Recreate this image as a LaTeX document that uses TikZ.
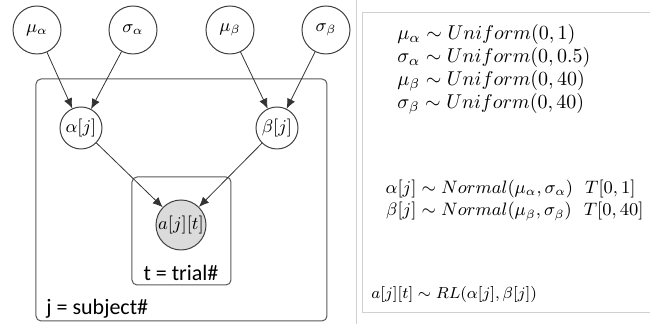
\documentclass[tikz,border=0pt]{standalone}
\usepackage{fontspec}
\usepackage{mathtools}
\newfontfamily\calib{Carlito}
\usetikzlibrary{arrows.meta}
\begin{document}
\begin{tikzpicture}[x=0.5pt,y=-0.5pt,
  var/.style={circle,draw=black!75,line width=0.5pt,inner sep=0pt,minimum size=24pt,font=\fontsize{9}{10}\selectfont},
  latent/.style={var,minimum size=21pt},
  obs/.style={var,minimum size=25pt,fill=black!14},
  plate/.style={draw=black!65,line width=0.5pt,rounded corners=2.5pt},
  arr/.style={draw=black!80,line width=0.4pt,-{Latex[length=5pt,width=4.3pt]}},
  platelabel/.style={font=\calib\fontsize{11}{12}\selectfont,inner sep=0pt},
  eq/.style={inner sep=0pt,anchor=base west},
  equni/.style={eq,font=\fontsize{10}{12}\selectfont},
  eqnorm/.style={eq,font=\fontsize{9}{11}\selectfont},
  eqrl/.style={eq,font=\fontsize{8.4}{10}\selectfont},
  rule/.style={draw=black!18,line width=0.5pt}
]
\useasboundingbox (0,0) rectangle (650,324);
% plates
\draw[plate] (36,79) rectangle (327,321);
\draw[plate] (132,177) rectangle (231,285);
% nodes
\node[var] (ma) at (37,30) {$\mu_\alpha$};
\node[var] (sa) at (133,30) {$\sigma_\alpha$};
\node[var] (mb) at (230,30) {$\mu_\beta$};
\node[var] (sb) at (326,30) {$\sigma_\beta$};
\node[latent] (aj) at (81,128) {$\alpha[j]$};
\node[latent] (bj) at (277,128) {$\beta[j]$};
\node[obs] (ajt) at (181,225) {$a[j][t]$};
\node[platelabel] (tl) at (181,273) {t = trial\#};
\node[platelabel,anchor=west] (jl) at (46,309) {j = subject\#};
% arrows
\draw[arr] (ma) -- (aj);
\draw[arr] (sa) -- (aj);
\draw[arr] (mb) -- (bj);
\draw[arr] (sb) -- (bj);
\draw[arr] (aj) -- (ajt);
\draw[arr] (bj) -- (ajt);
% right panel rules
\draw[rule] (357,0) -- (357,324);
\draw[rule] (650,13) -- (363,13) -- (363,313) -- (650,313);
% equations
\node[equni] (e1) at (397,40) {$\mu_\alpha \sim Uniform(0,1)$};
\node[equni] (e2) at (397,63) {$\sigma_\alpha \sim Uniform(0,0.5)$};
\node[equni] (e3) at (397,86) {$\mu_\beta \sim Uniform(0,40)$};
\node[equni] (e4) at (397,109) {$\sigma_\beta \sim Uniform(0,40)$};
\node[eqnorm] (e5) at (416,194) {$\mathllap{\alpha[j]} \sim Normal(\mu_\alpha,\sigma_\alpha)\hspace{6pt}T[0,1]$};
\node[eqnorm] (e6) at (416,216) {$\mathllap{\beta[j]} \sim Normal(\mu_\beta,\sigma_\beta)\hspace{6pt}T[0,40]$};
\node[eqrl] (e7) at (371,299) {$a[j][t] \sim RL(\alpha[j],\beta[j])$};
\end{tikzpicture}
\end{document}
